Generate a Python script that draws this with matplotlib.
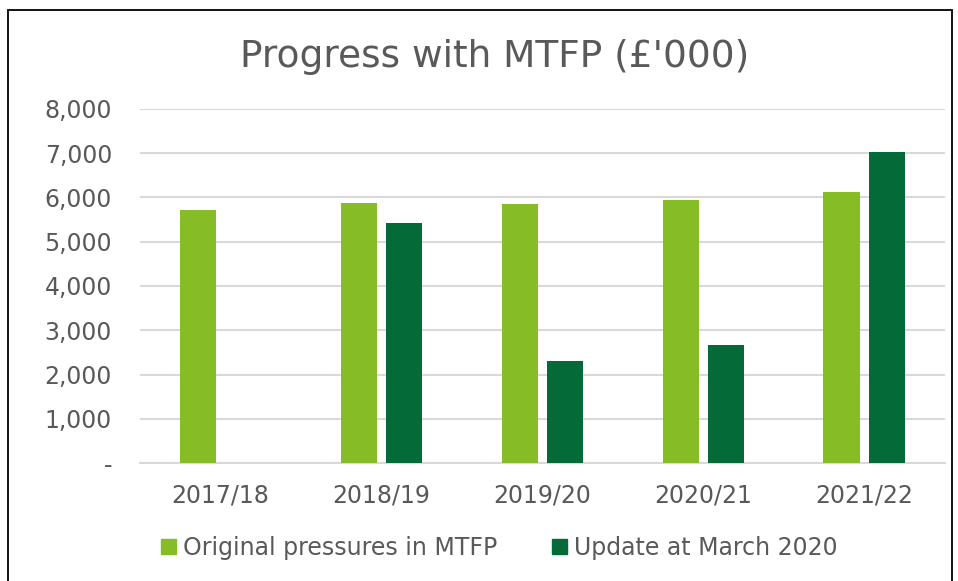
import matplotlib
matplotlib.use("Agg")
import matplotlib.pyplot as plt
import numpy as np
from matplotlib.patches import Rectangle, Patch

categories = ["2017/18", "2018/19", "2019/20", "2020/21", "2021/22"]
original = [5720, 5870, 5855, 5937, 6124]
update = [0, 5415, 2305, 2667, 7023]
series_names = ["Original pressures in MTFP", "Update at March 2020"]
yticks = [0, 1000, 2000, 3000, 4000, 5000, 6000, 7000, 8000]
ytick_labels = ["-", "1,000", "2,000", "3,000", "4,000", "5,000", "6,000", "7,000", "8,000"]

c_light = "#86bc25"
c_dark = "#046a38"
txt = "#595959"

plt.rcParams["font.family"] = ["DejaVu Sans"]
fig = plt.figure(figsize=(9.58, 5.81), dpi=100)
ax = fig.add_axes([0.146, 0.203, 0.840, 0.6095])

x = np.arange(len(categories))
w = 0.225
off = 0.14
ax.bar(x - off, original, width=w, color=c_light, zorder=3)
ax.bar(x + off, update, width=w, color=c_dark, zorder=3)

ax.set_xlim(-0.5, len(categories) - 0.5)
ax.set_ylim(0, 8000)
ax.set_yticks(yticks)
ax.set_yticklabels(ytick_labels)
ax.set_xticks(x)
ax.set_xticklabels(categories)
ax.grid(axis="y", color="#d9d9d9", linewidth=1.5, zorder=0)
for s in ["top", "right", "left"]:
    ax.spines[s].set_visible(False)
ax.spines["bottom"].set_color("#d9d9d9")
ax.spines["bottom"].set_linewidth(1.5)
ax.tick_params(axis="both", length=0, colors=txt, labelsize=17)
ax.tick_params(axis="x", pad=15)
ax.tick_params(axis="y", pad=20)

fig.text(0.516, 0.902, "Progress with MTFP (£'000)", ha="center", va="center",
         fontsize=27, color=txt)

handles = [Patch(color=c_light), Patch(color=c_dark)]
fig.legend(handles, series_names, loc="center", bbox_to_anchor=(0.521, 0.057),
           ncol=2, frameon=False, fontsize=17, labelcolor=txt,
           handlelength=0.65, handleheight=0.65, handletextpad=0.3, columnspacing=2.3)

fig.patches.append(Rectangle((8 / 958, -0.1), (952 - 8) / 958, 1.1 - 10 / 581,
                             transform=fig.transFigure, fill=False,
                             edgecolor="black", linewidth=1.3))

fig.savefig("out.png", dpi=100)
